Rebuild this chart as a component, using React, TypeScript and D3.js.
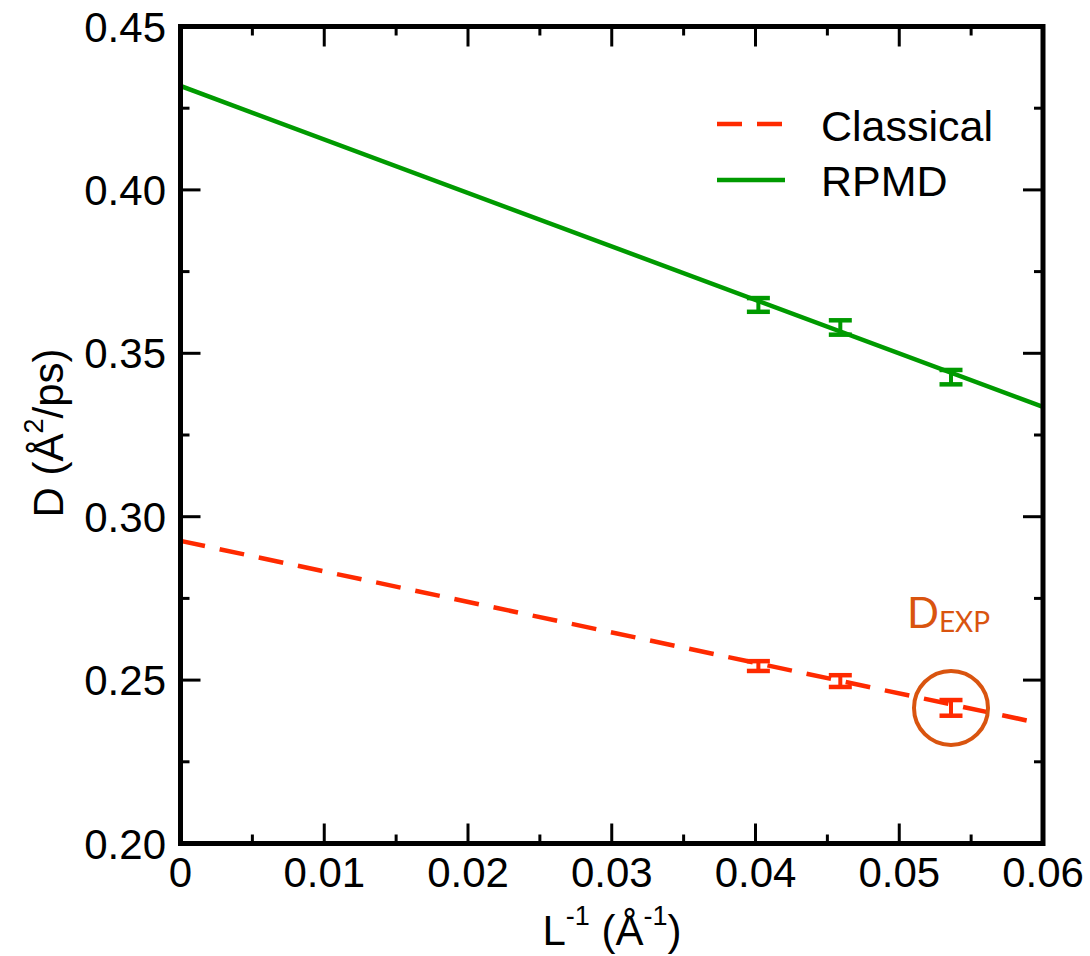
import React from "react";
import * as d3 from "d3";

const xTickValues = [0, 0.01, 0.02, 0.03, 0.04, 0.05, 0.06];
const xTickLabels = ["0", "0.01", "0.02", "0.03", "0.04", "0.05", "0.06"];
const yTickValues = [0.2, 0.25, 0.3, 0.35, 0.4, 0.45];
const yTickLabels = ["0.20", "0.25", "0.30", "0.35", "0.40", "0.45"];

const invL = [0.0402, 0.0459, 0.0536];
const rpmdD = [0.3648, 0.3579, 0.3427];
const rpmdErr = [0.0021, 0.0022, 0.0022];
const classicalD = [0.2543, 0.2497, 0.2415];
const classicalErr = [0.0015, 0.0018, 0.0024];

const fitX = [0, 0.06];
const rpmdFitY = [0.4318, 0.3336];
const classicalFitY = [0.2926, 0.2366];

const seriesNames = ["Classical", "RPMD"];

const RED = "#ff2a00";
const GREEN = "#009a00";
const ORANGE = "#d9540f";
const FONT = "'Liberation Sans', Arial, Helvetica, sans-serif";

export default function App() {
  const W = 1090, H = 956;
  const left = 180.5, right = 1043, top = 26.5, bottom = 843.5;
  const x = d3.scaleLinear().domain([0, 0.06]).range([left, right]);
  const y = d3.scaleLinear().domain([0.2, 0.45]).range([bottom, top]);

  const line = d3.line<[number, number]>().x(d => x(d[0])).y(d => y(d[1]));
  const rpmdPts: [number, number][] = fitX.map((v, i) => [v, rpmdFitY[i]]);
  const clPts: [number, number][] = fitX.map((v, i) => [v, classicalFitY[i]]);

  const xMinor = d3.range(0, 13).map(i => i * 0.005).filter((_, i) => i % 2 === 1);
  const yMinor = d3.range(0, 11).map(i => 0.2 + i * 0.025).filter((_, i) => i % 2 === 1);

  const majorLen = 20, minorLen = 9;

  const errorBars = (vals: number[], errs: number[], color: string, key: string) =>
    invL.map((xv, i) => {
      const cx = x(xv);
      const y1 = y(vals[i] + errs[i]);
      const y2 = y(vals[i] - errs[i]);
      const hw = 11.5;
      return (
        <g key={key + i} stroke={color}>
          <line x1={cx} x2={cx} y1={y1} y2={y2} strokeWidth={4} />
          <line x1={cx - hw} x2={cx + hw} y1={y1} y2={y1} strokeWidth={4.5} />
          <line x1={cx - hw} x2={cx + hw} y1={y2} y2={y2} strokeWidth={4.5} />
        </g>
      );
    });

  return (
    <svg width={W} height={H} style={{ position: "absolute", left: 0, top: 0, background: "#fff" }}>
      <rect x={0} y={0} width={W} height={H} fill="#fff" />
      <defs>
        <clipPath id="plotclip">
          <rect x={left} y={top} width={right - left} height={bottom - top} />
        </clipPath>
      </defs>

      {/* ticks */}
      <g stroke="#000" strokeWidth={3}>
        {xTickValues.map((v, i) => (
          <g key={"xt" + i}>
            <line x1={x(v)} x2={x(v)} y1={bottom} y2={bottom - majorLen} />
            <line x1={x(v)} x2={x(v)} y1={top} y2={top + majorLen} />
          </g>
        ))}
        {xMinor.map((v, i) => (
          <g key={"xm" + i}>
            <line x1={x(v)} x2={x(v)} y1={bottom} y2={bottom - minorLen} />
            <line x1={x(v)} x2={x(v)} y1={top} y2={top + minorLen} />
          </g>
        ))}
        {yTickValues.map((v, i) => (
          <g key={"yt" + i}>
            <line x1={left} x2={left + majorLen} y1={y(v)} y2={y(v)} />
            <line x1={right} x2={right - majorLen} y1={y(v)} y2={y(v)} />
          </g>
        ))}
        {yMinor.map((v, i) => (
          <g key={"ym" + i}>
            <line x1={left} x2={left + minorLen} y1={y(v)} y2={y(v)} />
            <line x1={right} x2={right - minorLen} y1={y(v)} y2={y(v)} />
          </g>
        ))}
      </g>

      {/* fit lines */}
      <g clipPath="url(#plotclip)" fill="none">
        <path d={line(rpmdPts) || ""} stroke={GREEN} strokeWidth={4.5} />
        <path d={line(clPts) || ""} stroke={RED} strokeWidth={4.5} strokeDasharray="25,15" />
      </g>

      {errorBars(rpmdD, rpmdErr, GREEN, "r")}
      {errorBars(classicalD, classicalErr, RED, "c")}

      {/* D_EXP circle */}
      <circle cx={x(invL[2])} cy={y(classicalD[2])} r={37} fill="none" stroke={ORANGE} strokeWidth={4} />
      <text x={x(invL[2]) - 44} y={y(classicalD[2]) - 80} fill={ORANGE}
        fontFamily="Lato, 'Open Sans', sans-serif" fontSize={42}>
        D<tspan fontSize={28} dy={4}>EXP</tspan>
      </text>

      {/* frame */}
      <rect x={left} y={top} width={right - left} height={bottom - top} fill="none" stroke="#000" strokeWidth={5} />

      {/* tick labels */}
      <g fontFamily={FONT} fontSize={42} fill="#000">
        {xTickValues.map((v, i) => (
          <text key={"xl" + i} x={x(v)} y={887} textAnchor="middle">{xTickLabels[i]}</text>
        ))}
        {yTickValues.map((v, i) => (
          <text key={"yl" + i} x={166} y={y(v) + 15} textAnchor="end">{yTickLabels[i]}</text>
        ))}
      </g>

      {/* axis titles */}
      <text x={612} y={945} textAnchor="middle" fontFamily={FONT} fontSize={42}>
        L<tspan fontSize={27} dy={-20}>-1</tspan>
        <tspan dy={20}> (Å</tspan>
        <tspan fontSize={27} dy={-20}>-1</tspan>
        <tspan dy={20}>)</tspan>
      </text>
      <text transform={`translate(63, 433) rotate(-90)`} textAnchor="middle" fontFamily={FONT} fontSize={42}>
        D (Å<tspan fontSize={27} dy={-20}>2</tspan>
        <tspan dy={20}>/ps)</tspan>
      </text>

      {/* legend */}
      <g fontFamily={FONT} fontSize={43}>
        <line x1={717} x2={783} y1={124} y2={124} stroke={RED} strokeWidth={4.5} strokeDasharray="25,15" />
        <text x={821} y={141}>{seriesNames[0]}</text>
        <line x1={717} x2={785} y1={180} y2={180} stroke={GREEN} strokeWidth={4.5} />
        <text x={821} y={196}>{seriesNames[1]}</text>
      </g>
    </svg>
  );
}
